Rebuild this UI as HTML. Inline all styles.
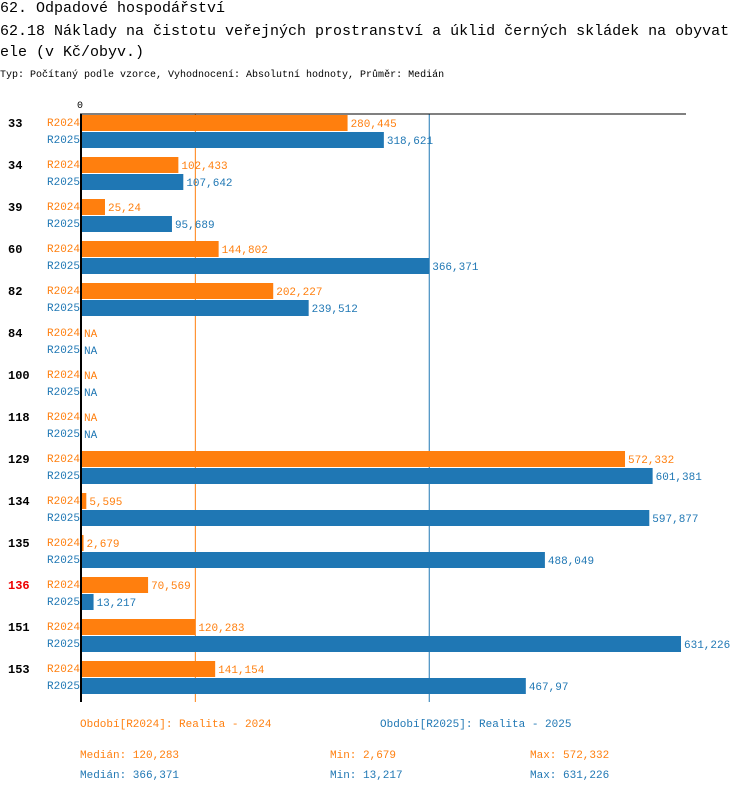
<!DOCTYPE html>
<html><head><meta charset="utf-8"><style>
body{margin:0;background:#fff;width:750px;height:792px;overflow:hidden;font-family:"Liberation Mono",monospace}
</style></head><body>
<svg width="750" height="792" xmlns="http://www.w3.org/2000/svg" font-family="Liberation Mono, monospace">
<text x="0" y="12" font-size="15">62. Odpadové hospodářství</text>
<text x="0" y="35" font-size="15">62.18 Náklady na čistotu veřejných prostranství a úklid černých skládek na obyvat</text>
<text x="0" y="56" font-size="15">ele (v Kč/obyv.)</text>
<text x="0" y="77" font-size="10">Typ: Počítaný podle vzorce, Vyhodnocení: Absolutní hodnoty, Průměr: Medián</text>
<g id="plot"></g>
<text x="80" y="727" font-size="11" fill="#ff7f0e">Období[R2024]: Realita - 2024</text>
<text x="380" y="727" font-size="11" fill="#1f77b4">Období[R2025]: Realita - 2025</text>
<text x="80" y="758" font-size="11" fill="#ff7f0e">Medián: 120,283</text>
<text x="330" y="758" font-size="11" fill="#ff7f0e">Min: 2,679</text>
<text x="530" y="758" font-size="11" fill="#ff7f0e">Max: 572,332</text>
<text x="80" y="778" font-size="11" fill="#1f77b4">Medián: 366,371</text>
<text x="330" y="778" font-size="11" fill="#1f77b4">Min: 13,217</text>
<text x="530" y="778" font-size="11" fill="#1f77b4">Max: 631,226</text>
</svg>
<script>
const categories = ["33","34","39","60","82","84","100","118","129","134","135","136","151","153"];
const values2024 = [280.445,102.433,25.24,144.802,202.227,null,null,null,572.332,5.595,2.679,70.569,120.283,141.154];
const values2025 = [318.621,107.642,95.689,366.371,239.512,null,null,null,601.381,597.877,488.049,13.217,631.226,467.97];
const labels2024 = ["280,445","102,433","25,24","144,802","202,227","NA","NA","NA","572,332","5,595","2,679","70,569","120,283","141,154"];
const labels2025 = ["318,621","107,642","95,689","366,371","239,512","NA","NA","NA","601,381","597,877","488,049","13,217","631,226","467,97"];
const highlighted = ["136"];
const median2024 = 120.283, median2025 = 366.371;

const NS="http://www.w3.org/2000/svg";
const g=document.getElementById('plot');
const x0=81, scale=600/631.226, plotTop=114, rowH=42, plotBottom=702;
const X=v=>x0+v*scale;
function mk(t,a){const e=document.createElementNS(NS,t);for(const k in a)e.setAttribute(k,a[k]);g.appendChild(e);return e;}
let e;
e=mk('line',{x1:X(median2024),x2:X(median2024),y1:plotTop,y2:plotBottom,stroke:'#ff7f0e','stroke-width':1});


e=mk('line',{x1:X(median2025),x2:X(median2025),y1:plotTop,y2:plotBottom,stroke:'#1f77b4','stroke-width':1});


categories.forEach((c,i)=>{
  const y=plotTop+1+i*rowH;
  e=mk('text',{x:8,y:y+12,'font-size':12,'font-weight':'bold',fill:highlighted.includes(c)?'#e00':'#000'});
  e.textContent=c;
  
  
  [[values2024,labels2024,'#ff7f0e','R2024',0],[values2025,labels2025,'#1f77b4','R2025',17]].forEach(([vals,lbls,col,nm,off])=>{
    const yy=y+off;
    e=mk('text',{x:47,y:yy+11,'font-size':11,fill:col});
    e.textContent=nm;
    
    
    const v=vals[i];
    if(v!==null){
      e=mk('rect',{x:x0,y:yy,width:X(v)-x0,height:16,fill:col});
      
      
    }
    e=mk('text',{x:(v!==null?X(v):x0)+3,y:yy+12,'font-size':11,fill:col});
    e.textContent=lbls[i];
    
    
  });
});
e=mk('line',{x1:80,x2:686,y1:plotTop,y2:plotTop,stroke:'#000','stroke-width':1});


e=mk('line',{x1:81,x2:81,y1:plotTop,y2:plotBottom,stroke:'#000','stroke-width':2});


e=mk('text',{x:77,y:108,'font-size':10});
e.textContent='0';


</script>
</body></html>
